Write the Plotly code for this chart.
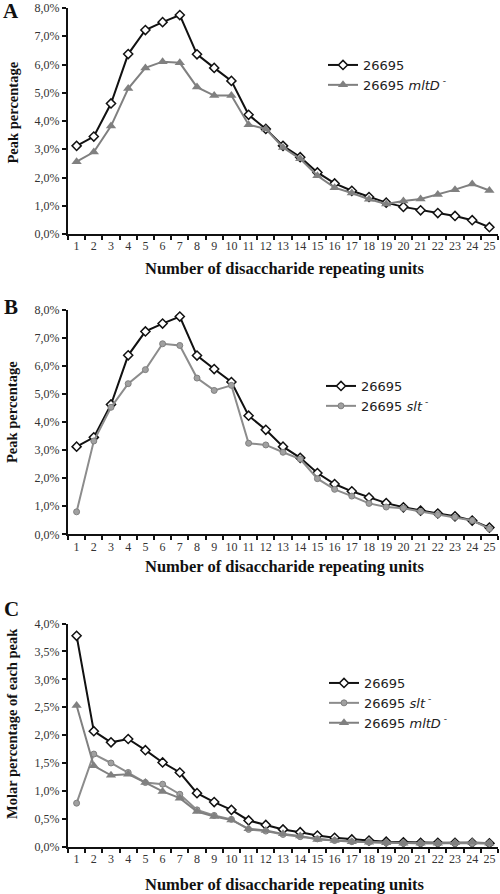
import plotly.graph_objects as go

units = [str(i) for i in range(1, 26)]

# Panel A: peak percentage
a_wt = [3.12, 3.45, 4.62, 6.37, 7.22, 7.50, 7.75, 6.36, 5.88, 5.42, 4.22, 3.72, 3.12, 2.72, 2.18,
        1.79, 1.53, 1.31, 1.11, 0.96, 0.84, 0.74, 0.64, 0.49, 0.24]
a_mltd = [2.56, 2.90, 3.82, 5.15, 5.88, 6.10, 6.06, 5.20, 4.90, 4.90, 3.87, 3.72, 3.06, 2.66, 2.06,
          1.64, 1.45, 1.23, 1.06, 1.17, 1.24, 1.40, 1.57, 1.77, 1.54]

# Panel B: peak percentage
b_wt = a_wt
b_slt = [0.80, 3.32, 4.52, 5.36, 5.86, 6.78, 6.72, 5.56, 5.12, 5.30, 3.24, 3.18, 2.92, 2.68, 1.98,
         1.60, 1.36, 1.10, 0.97, 0.93, 0.81, 0.70, 0.61, 0.49, 0.20]

# Panel C: molar percentage of each peak
c_wt = [3.78, 2.07, 1.87, 1.93, 1.73, 1.51, 1.33, 0.96, 0.80, 0.66, 0.47, 0.39, 0.31, 0.26, 0.20,
        0.16, 0.13, 0.11, 0.09, 0.08, 0.07, 0.07, 0.07, 0.07, 0.06]
c_slt = [0.78, 1.66, 1.50, 1.33, 1.15, 1.12, 0.94, 0.66, 0.56, 0.49, 0.31, 0.28, 0.22, 0.18, 0.14,
         0.11, 0.09, 0.08, 0.07, 0.06, 0.06, 0.06, 0.06, 0.06, 0.06]
c_mltd = [2.53, 1.45, 1.28, 1.30, 1.15, 0.99, 0.87, 0.63, 0.54, 0.48, 0.32, 0.29, 0.23, 0.19, 0.13,
          0.11, 0.09, 0.08, 0.07, 0.06, 0.06, 0.06, 0.07, 0.08, 0.06]

ab_ticks = [0, 1, 2, 3, 4, 5, 6, 7, 8]
ab_ticktext = ["0,0%", "1,0%", "2,0%", "3,0%", "4,0%", "5,0%", "6,0%", "7,0%", "8,0%"]
c_ticks = [0, 0.5, 1, 1.5, 2, 2.5, 3, 3.5, 4]
c_ticktext = ["0,0%", "0,5%", "1,0%", "1,5%", "2,0%", "2,5%", "3,0%", "3,5%", "4,0%"]

name_wt = "26695"
name_slt = "26695 <i>slt</i><sup> -</sup>"
name_mltd = "26695 <i>mltD</i><sup> -</sup>"

W, H = 500, 894
SERIF = "Liberation Serif"
SANS = "DejaVu Sans"

def wt_trace(y, xa, ya, leg):
    return go.Scatter(x=units, y=y, xaxis=xa, yaxis=ya, name=name_wt, legend=leg, mode="lines+markers",
                      line=dict(color="#111111", width=2),
                      marker=dict(symbol="diamond", size=7, color="white", line=dict(color="#111111", width=1.5)))

def mltd_trace(y, xa, ya, leg):
    return go.Scatter(x=units, y=y, xaxis=xa, yaxis=ya, name=name_mltd, legend=leg, mode="lines+markers",
                      line=dict(color="#808080", width=2),
                      marker=dict(symbol="triangle-up", size=9, color="#808080"))

def slt_trace(y, xa, ya, leg):
    return go.Scatter(x=units, y=y, xaxis=xa, yaxis=ya, name=name_slt, legend=leg, mode="lines+markers",
                      line=dict(color="#8c8c8c", width=2),
                      marker=dict(symbol="circle", size=6, color="#a0a0a0", line=dict(color="#808080", width=1)))

fig = go.Figure()
fig.add_trace(wt_trace(a_wt, "x", "y", "legend"))
fig.add_trace(mltd_trace(a_mltd, "x", "y", "legend"))
fig.add_trace(wt_trace(b_wt, "x2", "y2", "legend2"))
fig.add_trace(slt_trace(b_slt, "x2", "y2", "legend2"))
fig.add_trace(wt_trace(c_wt, "x3", "y3", "legend3"))
fig.add_trace(slt_trace(c_slt, "x3", "y3", "legend3"))
fig.add_trace(mltd_trace(c_mltd, "x3", "y3", "legend3"))

def py(p):
    return 1 - p / H

xdom = [68 / W, 498 / W]
ydoms = [[py(234), py(8)], [py(534.3), py(309.5)], [py(846.7), py(623.5)]]

axis_common = dict(showline=True, linecolor="#111111", linewidth=2, ticks="outside", ticklen=4,
                   tickwidth=2, tickcolor="#111111", showgrid=False, zeroline=False,
                   tickfont=dict(family=SERIF, size=12, color="#333333"))

layout = dict(width=W, height=H, margin=dict(l=0, r=0, t=0, b=0, autoexpand=False),
              paper_bgcolor="white", plot_bgcolor="white", showlegend=True)

for i, suffix in enumerate(["", "2", "3"]):
    xa = dict(axis_common, type="category", tickson="boundaries", range=[-0.5, 24.5],
              domain=xdom, anchor="y" + suffix, tickangle=0)
    if i < 2:
        ya = dict(axis_common, range=[0, 8], tickvals=ab_ticks, ticktext=ab_ticktext,
                  domain=ydoms[i], anchor="x" + suffix)
    else:
        ya = dict(axis_common, range=[0, 4], tickvals=c_ticks, ticktext=c_ticktext,
                  domain=ydoms[i], anchor="x" + suffix)
    layout["xaxis" + suffix] = xa
    layout["yaxis" + suffix] = ya

leg_common = dict(font=dict(family=SANS, size=13, color="#222222"), bgcolor="rgba(0,0,0,0)",
                  xanchor="left", yanchor="top", tracegroupgap=0)
layout["legend"] = dict(leg_common, x=323 / W, y=py(50))
layout["legend2"] = dict(leg_common, x=321 / W, y=py(371))
layout["legend3"] = dict(leg_common, x=324 / W, y=py(668))

fig.update_layout(**layout)

title_font = dict(family=SERIF, size=16.5, color="#111111", weight="bold")
ytitle_font = dict(family=SERIF, size=14.5, color="#111111", weight="bold")
ann = []
xt = "Number of disaccharide repeating units"
for yy in [268, 566.7, 884.3]:
    ann.append(dict(text=xt, x=285 / W, y=py(yy), xref="paper", yref="paper", showarrow=False,
                    font=title_font, xanchor="center", yanchor="middle"))
ann.append(dict(text="Peak percentage", x=12 / W, y=py(112.5), xref="paper", yref="paper",
                showarrow=False, textangle=-90, font=ytitle_font, xanchor="center", yanchor="middle"))
ann.append(dict(text="Peak percentage", x=12 / W, y=py(412), xref="paper", yref="paper",
                showarrow=False, textangle=-90, font=ytitle_font, xanchor="center", yanchor="middle"))
ann.append(dict(text="Molar percentage of each peak", x=12 / W, y=py(724), xref="paper", yref="paper",
                showarrow=False, textangle=-90, font=ytitle_font, xanchor="center", yanchor="middle"))
letter_font = dict(family=SERIF, size=21, color="#111111", weight="bold")
for letter, yy in [("A", 11), ("B", 306.7), ("C", 609)]:
    ann.append(dict(text=letter, x=11 / W, y=py(yy), xref="paper", yref="paper", showarrow=False,
                    font=letter_font, xanchor="center", yanchor="middle"))
fig.update_layout(annotations=ann)

fig.write_html("out.html", config={"displayModeBar": False},
               post_script="document.body.style.margin='0px';document.body.style.overflow='hidden';")
